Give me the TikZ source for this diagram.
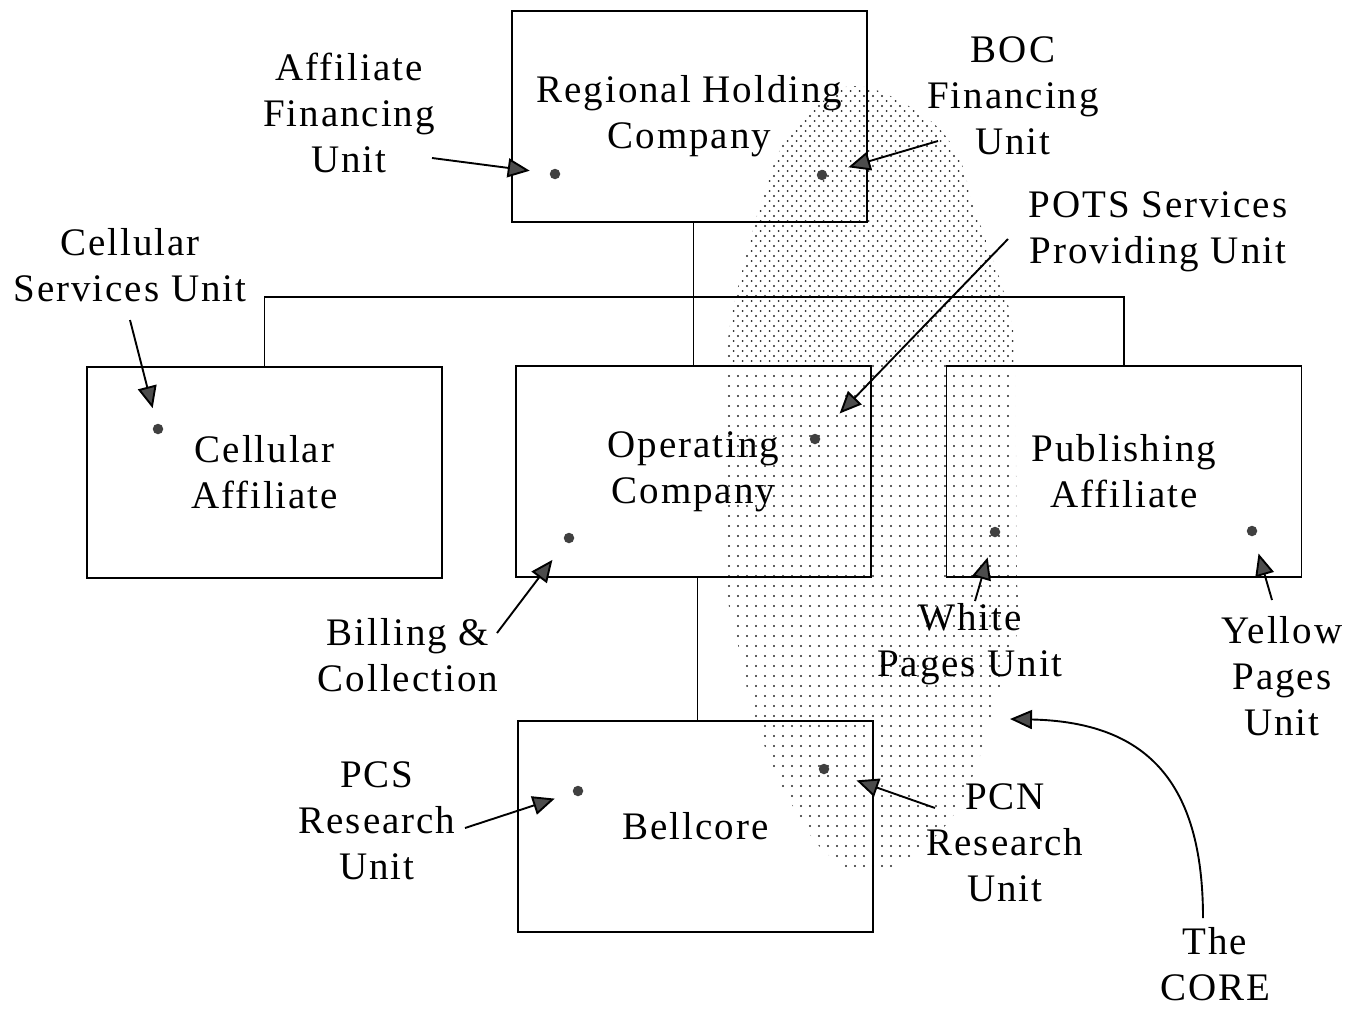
\documentclass[tikz,border=0pt]{standalone}
\usepackage{fontspec}
\setmainfont{Liberation Serif}[LetterSpace=5]
\usetikzlibrary{arrows.meta}
\begin{document}
\begin{tikzpicture}[x=1pt,y=-1pt,
  every node/.style={font=\fontsize{39}{46}\selectfont, inner sep=0pt},
  box/.style={draw, line width=1.8pt, minimum width=355pt, minimum height=211pt, align=center},
  lbl/.style={align=center},
  spot/.style={circle, fill=black!75, minimum size=10.5pt, inner sep=0pt},
  ptr/.style={line width=1.9pt, shorten >=#1, -{Triangle[length=22pt,width=19pt,fill=black!70]}},
  ptr/.default=0pt,
  wire/.style={line width=1.5pt},
  grain/.style={fill=black!85}]
\useasboundingbox (0,0) rectangle (1358,1009);

% the shaded core region, a halftone of dots
\begin{scope}
  \clip plot[smooth cycle, tension=0.7] coordinates {
    (855,86) (915,110) (955,150) (975,210) (1000,280) (1014,340) (1016,450)
    (1017,580) (1020,620) (1005,670) (990,720) (975,770) (950,820) (905,860)
    (865,874) (825,852) (795,810) (770,760) (750,700) (737,640) (726,580)
    (723,450) (728,340) (745,260) (762,200) (785,140) (815,108)};
  \foreach \x in {720,729,...,1026}
    \foreach \y in {86,96,...,880}
      \fill[grain] (\x,\y) circle[radius=1.1];
  \foreach \x in {724.5,733.5,...,1026}
    \foreach \y in {91,101,...,366}
      \fill[grain] (\x,\y) circle[radius=1.0];
\end{scope}

% organisation boxes
\node[box] (rhc)  at (689.5,116.5) {Regional Holding\\Company};
\node[box] (cell) at (264.5,472.5) {Cellular\\Affiliate};
\node[box] (opco) at (693.5,471.5) {Operating\\Company};
\node[box] (pub)  at (1124,471.5)  {Publishing\\Affiliate};
\node[box] (bell) at (695.5,826.5) {Bellcore};

% tree connectors
\coordinate (bus) at (0,297);
\draw[wire] (opco.north) -- (opco.north |- rhc.south);
\draw[wire] (cell.north) -- (cell.north |- bus) -- (pub.north |- bus) -- (pub.north);
\draw[wire] ([xshift=4pt]opco.south) -- ([xshift=4pt]opco.south |- bell.north);

% units inside the companies
\node[spot] (dAfu)  at (555,174) {};
\node[spot] (dBoc)  at (822,175) {};
\node[spot] (dCss)  at (158,429) {};
\node[spot] (dPots) at (815,439) {};
\node[spot] (dBill) at (569,538) {};
\node[spot] (dWp)   at (995,532) {};
\node[spot] (dYp)   at (1252,531) {};
\node[spot] (dPcs)  at (578,791) {};
\node[spot] (dPcn)  at (824,769) {};

% unit labels
\node[lbl] (lAfu)  at (349,113)  {Affiliate\\Financing\\Unit};
\node[lbl] (lBoc)  at (1013,96)  {BOC\\Financing\\Unit};
\node[lbl] (lPots) at (1158,232) {POTS Services\\Providing Unit};
\node[lbl] (lCss)  at (130,265)  {Cellular\\Services Unit};
\node[lbl] (lBill) at (408,655)  {Billing \&\\Collection};
\node[lbl] (lWp)   at (970,644)  {White\\Pages Unit};
\node[lbl] (lYp)   at (1282,676) {Yellow\\Pages\\Unit};
\node[lbl] (lPcs)  at (377,821)  {PCS\\Research\\Unit};
\node[lbl] (lPcn)  at (1005,843) {PCN\\Research\\Unit};
\node[lbl] (lCore) at (1215,964) {The\\CORE};

% pointer start points beside the labels
\coordinate (sAfu)  at (432,158);
\coordinate (sBoc)  at (938,141);
\coordinate (sPots) at (1008,239);
\coordinate (sCss)  at (130,320);
\coordinate (sBill) at (497,633);
\coordinate (sWp)   at (975,601);
\coordinate (sYp)   at (1272,600);
\coordinate (sPcs)  at (465,828);
\coordinate (sPcn)  at (935,808);
\coordinate (sCore) at (1203,918);
\coordinate (tCore) at (1010,719);

% pointers
\draw[ptr=20pt] (sAfu)  -- (dAfu);
\draw[ptr=22pt] (sBoc)  -- (dBoc);
\draw[ptr=30pt] (sPots) -- (dPots);
\draw[ptr=16pt] (sCss)  -- (dCss);
\draw[ptr=22pt] (sBill) -- (dBill);
\draw[ptr=21pt] (sWp)   -- (dWp);
\draw[ptr=18pt] (sYp)   -- (dYp);
\draw[ptr=19pt] (sPcs)  -- (dPcs);
\draw[ptr=29pt] (sPcn)  -- (dPcn);
\draw[ptr] (sCore) .. controls (1203,780) and (1145,722) .. (tCore);
\end{tikzpicture}
\end{document}
